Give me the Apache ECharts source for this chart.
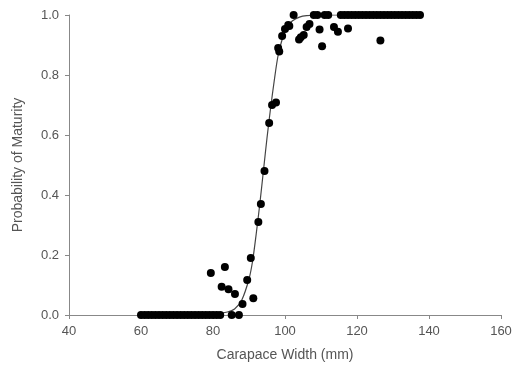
<!DOCTYPE html>
<html>
	<head>
		<meta charset="UTF-8">
		<title>Probability of Maturity</title>
		<style type="text/css">
			html,body{
				margin: 0;
				padding: 0;
				width: 100%;
				height: 100%;
				background: #fff;
			}
			#main{
				width: 515px;
				height: 369px;
			}
		</style>
	</head>
	<body>
		<div id="main"></div>
		<script src="https://cdn.jsdelivr.net/npm/echarts@6/dist/echarts.min.js"></script>
		<script>
			var obsX = [60, 61, 62, 63, 64, 65, 66, 67, 68, 69, 70, 71, 72, 73, 74, 75, 76, 77, 78, 79, 80, 81, 82, 85.2, 87.2,
				79.4, 83.3, 82.4, 84.3, 86.1, 88.2, 91.2, 89.5, 90.5, 92.6, 93.3, 94.3, 95.6, 96.4, 97.5,
				98.1, 98.4, 99.2, 100, 100.9, 101.2, 102.4, 103.9, 104.4, 105.2, 106, 106.8, 108, 109, 109.6, 110.3,
				111, 112, 113.6, 114.7, 117.5, 126.5,
				115.5, 116.5, 117.5, 118.5, 119.5, 120.5, 121.5, 122.5, 123.5, 124.5, 125.5, 126.5, 127.5,
				128.5, 129.5, 130.5, 131.5, 132.5, 133.5, 134.5, 135.5, 136.5, 137.5];
			var obsY = [0, 0, 0, 0, 0, 0, 0, 0, 0, 0, 0, 0, 0, 0, 0, 0, 0, 0, 0, 0, 0, 0, 0, 0, 0,
				0.14, 0.16, 0.094, 0.086, 0.07, 0.037, 0.056, 0.117, 0.19, 0.31, 0.37, 0.48, 0.64, 0.70, 0.708,
				0.89, 0.878, 0.93, 0.953, 0.967, 0.963, 1.0, 0.918, 0.926, 0.933, 0.96, 0.97, 1.0, 1.0, 0.952, 0.896,
				1.0, 1.0, 0.96, 0.944, 0.955, 0.915,
				1, 1, 1, 1, 1, 1, 1, 1, 1, 1, 1, 1, 1,
				1, 1, 1, 1, 1, 1, 1, 1, 1, 1];

			// fitted curve
			var fitX = [60, 80, 84, 86, 88, 90, 91, 92, 93, 94, 95, 96, 97, 98, 99, 100, 101, 102, 104, 106, 110, 120, 138];
			var fitY = [0, 0.003, 0.01, 0.02, 0.05, 0.12, 0.18, 0.27, 0.37, 0.48, 0.59, 0.69, 0.78, 0.86, 0.91, 0.945, 0.965, 0.98, 0.993, 0.998, 1, 1, 1];

			var xTicks = [40, 60, 80, 100, 120, 140, 160];
			var yTicks = [0, 0.2, 0.4, 0.6, 0.8, 1.0];

			var obsData = obsX.map(function(x, i){ return [x, obsY[i]]; });
			var fitData = fitX.map(function(x, i){ return [x, fitY[i]]; });

			var axisText = { color: '#555', fontFamily: 'Liberation Sans', fontSize: 13, margin: 10 };
			var axisLine = { lineStyle: { color: '#888', width: 1 } };

			var myChart = echarts.init(document.getElementById('main'));
			myChart.setOption({
				backgroundColor: '#fff',
				animation: false,
				grid: { left: 69, right: 14, top: 15, bottom: 54 },
				xAxis: {
					type: 'value',
					min: xTicks[0],
					max: xTicks[xTicks.length - 1],
					interval: 20,
					name: 'Carapace Width (mm)',
					nameLocation: 'middle',
					nameGap: 33,
					nameTextStyle: { color: '#555', fontFamily: 'Liberation Sans', fontSize: 14 },
					axisLine: axisLine,
					axisTick: { show: true, length: 4, lineStyle: { color: '#888' } },
					axisLabel: axisText,
					splitLine: { show: false }
				},
				yAxis: {
					type: 'value',
					min: yTicks[0],
					max: yTicks[yTicks.length - 1],
					interval: 0.2,
					name: 'Probability of Maturity',
					nameLocation: 'middle',
					nameGap: 44,
					nameTextStyle: { color: '#555', fontFamily: 'Liberation Sans', fontSize: 14 },
					axisLine: { show: true, lineStyle: { color: '#888', width: 1 } },
					axisTick: { show: true, length: 4, lineStyle: { color: '#888' } },
					axisLabel: {
						color: '#555', fontFamily: 'Liberation Sans', fontSize: 13, margin: 10,
						formatter: function(v){ return v.toFixed(1); }
					},
					splitLine: { show: false }
				},
				series: [
					{
						type: 'line',
						data: fitData,
						smooth: 0.3,
						showSymbol: false,
						lineStyle: { color: '#444', width: 1.2 },
						z: 1
					},
					{
						type: 'scatter',
						data: obsData,
						symbolSize: 8,
						itemStyle: { color: '#000', opacity: 1 },
						z: 2
					}
				]
			});
		</script>
	</body>
</html>
